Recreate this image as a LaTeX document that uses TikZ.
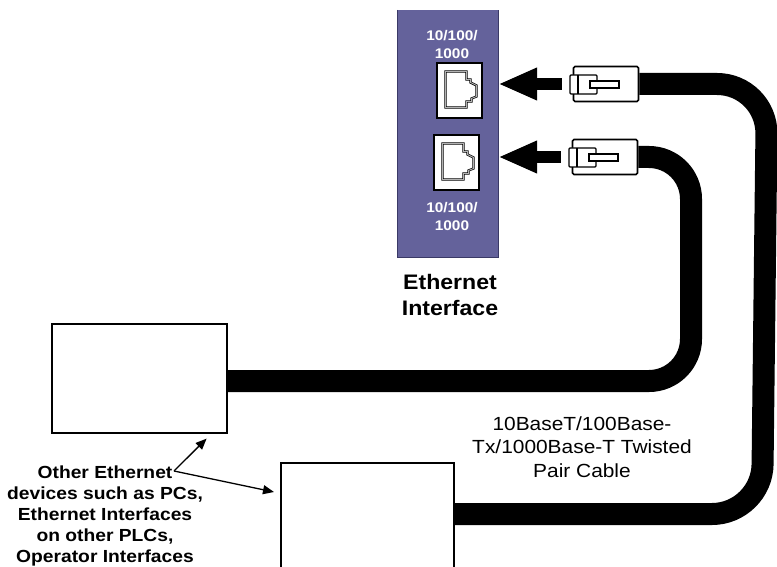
\documentclass[tikz,border=0pt]{standalone}
\usepackage{fontspec}
\setmainfont[FakeStretch=1.1]{Liberation Sans}
\usetikzlibrary{arrows.meta}
\definecolor{panelblue}{HTML}{64629B}
\definecolor{paneledge}{HTML}{3A3966}

\tikzset{
  socket/.pic={
    \draw[black,line width=0.7pt,double=black!30,double distance=0.9pt]
      (-14,-19) -- (7,-19) -- (7,-11) -- (11,-11) -- (11,-8) -- (17,-5)
      -- (17,6) -- (12,8) -- (12,11) -- (7,11) -- (7,17) -- (-14,17) -- cycle;
  },
  plughead/.pic={
    \draw[line width=1.4pt,fill=white,rounded corners=1pt] (-36,-9) rectangle (-9,10);
    \draw[line width=1.2pt] (-28,-9) -- (-28,10);
    \draw[line width=1.4pt,fill=white] (-16,-3) rectangle (13,4);
  }
}

\begin{document}
\begin{tikzpicture}[x=1pt,y=-1pt,
    panel/.style={fill=panelblue,minimum width=100pt,minimum height=247pt,inner sep=0pt},
    port/.style={draw=black,line width=1.2pt,fill=white,minimum width=45pt,minimum height=55pt,inner sep=0pt},
    plug/.style={draw=black,line width=1.6pt,fill=white,rounded corners=1.5pt,minimum width=65pt,minimum height=35pt,inner sep=0pt},
    device/.style={draw=black,line width=1.6pt,fill=white,inner sep=0pt,anchor=north west},
    cable/.style={line width=22pt},
    bigarrow/.style={line width=12pt,-{Triangle[length=39pt,width=30pt]}},
    callout/.style={line width=1.3pt,-{Triangle[length=11pt,width=9pt]}},
    speed/.style={text=white,font=\bfseries\fontsize{14}{18}\selectfont,align=center}]
  \useasboundingbox (0,0) rectangle (777,567);
  \clip (0,0) rectangle (777,567);

  \node[panel] (iface) at (448,133.5) {};
  \draw[paneledge,line width=1.2pt] (iface.north west) -- (iface.south west) -- (iface.south east) -- (iface.north east);
  \node[speed] (spdA) at (452,44) {10/100/\\1000};
  \node[speed] (spdB) at (452,216) {10/100/\\1000};
  \node[port] (jackA) at (459.5,90.5) {};
  \node[port] (jackB) at (456.5,162.5) {};
  \pic at (jackA) {socket};
  \pic at (jackB) {socket};
  \node[font=\bfseries\fontsize{21}{26}\selectfont,align=center] (ifacelbl) at (450,295) {Ethernet\\Interface};

  \node[plug] (plugA) at (606,84) {};
  \node[plug] (plugB) at (605,157) {};
  \pic at (plugA) {plughead};
  \pic at (plugB) {plughead};
  \draw[bigarrow] ([xshift=-11pt]plugA.west) -- (iface.east |- plugA.west);
  \draw[bigarrow] ([xshift=-11pt]plugB.west) -- (iface.east |- plugB.west);

  \node[device,minimum width=175pt,minimum height=109pt] (devA) at (51,323) {};
  \node[device,minimum width=173pt,minimum height=140pt] (devB) at (280,462) {};

  \draw[cable,rounded corners=50pt] (plugA.east) -- (767,84) -- (762,514) -- (devB.east |- 700,514);
  \draw[cable,rounded corners=42pt] (plugB.east) -- (691,157) -- (691,381) -- (devA.east |- 600,381);

  \node[font=\fontsize{19}{23.5}\selectfont,align=center] (cablelbl) at (582,447) {10BaseT/100Base-\\Tx/1000Base-T Twisted\\Pair Cable};

  \node[font=\bfseries\fontsize{17.5}{21}\selectfont,align=center] (others) at (105,515.5) {Other Ethernet\\devices such as PCs,\\Ethernet Interfaces\\on other PLCs,\\Operator Interfaces};
  \coordinate (fork) at (174,471);
  \draw[callout] (fork) -- ([shift={(-21,5)}]devA.south east);
  \draw[callout] (fork) -- ([shift={(-6,30)}]devB.north west);
\end{tikzpicture}
\end{document}
